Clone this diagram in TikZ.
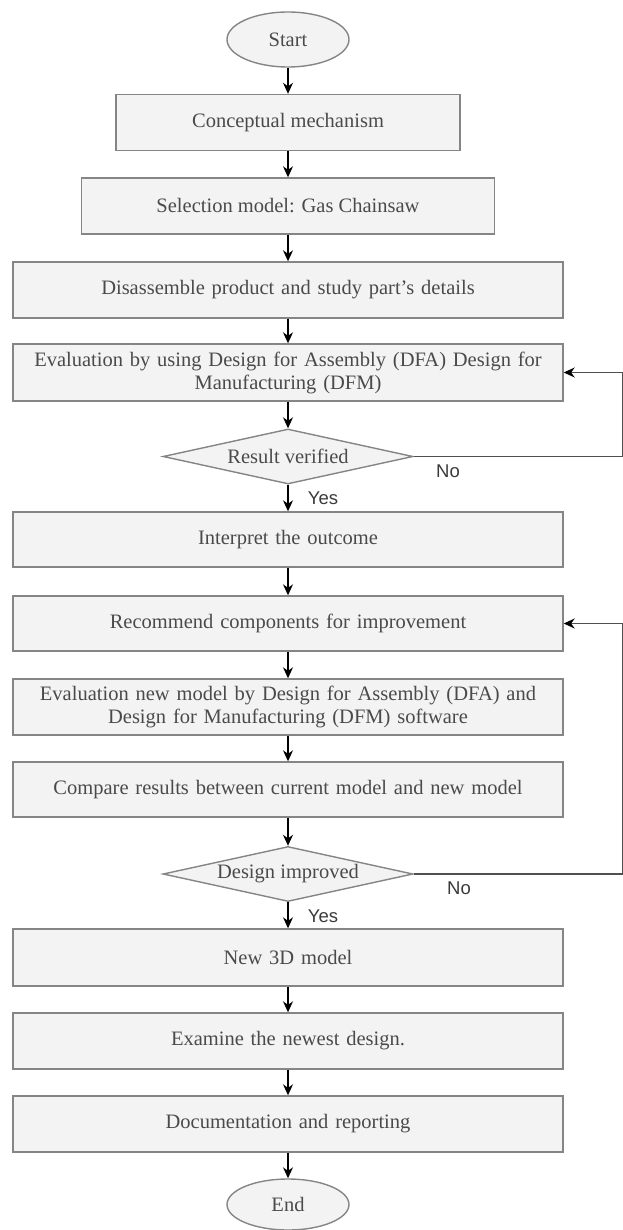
\documentclass[tikz,border=0pt]{standalone}
\usepackage{fontspec}
\setmainfont{Liberation Serif}
\newfontfamily\labfont{Liberation Sans}
\usetikzlibrary{shapes.geometric,arrows.meta}
\definecolor{boxfill}{HTML}{F3F3F3}
\definecolor{boxline}{HTML}{858585}
\definecolor{boxtext}{HTML}{4A4A4A}
\definecolor{labtext}{HTML}{3A3A3A}
\definecolor{fbline}{HTML}{505050}
\tikzset{
  base/.style={draw=boxline, fill=boxfill, line width=1.4pt, text=boxtext,
    font=\fontsize{20.5}{23}\selectfont, inner sep=0pt, align=center},
  procbox/.style={base, rectangle, minimum width=550pt, minimum height=56pt, text width=540pt},
  termnode/.style={base, ellipse, minimum width=122pt, minimum height=55pt},
  decnode/.style={base, diamond, aspect=4.5, minimum width=250pt, minimum height=55pt},
  arr/.style={line width=1.4pt, black, -{Stealth[length=11pt,width=10pt]}},
  fbarr/.style={line width=1.3pt, fbline, -{Stealth[length=11pt,width=10pt,color=black,fill=black]}},
  lab/.style={font=\labfont\fontsize{18.5}{20}\selectfont, text=labtext, inner sep=0pt}
}
\begin{document}
\begin{tikzpicture}[x=1pt,y=-1pt]
\useasboundingbox (0,0) rectangle (622,1230);
\node[termnode] (start) at (288,39.5) {Start};
\node[base, minimum width=344pt, minimum height=56pt] (c1) at (288,122.5) {Conceptual mechanism};
\node[base, minimum width=413pt, minimum height=56pt] (c2) at (288,206) {Selection model: Gas Chainsaw};
\node[procbox] (c3) at (288,290) {Disassemble product and study part's details};
\node[procbox, minimum height=57pt] (c4) at (288,372.5) {Evaluation by using Design for Assembly (DFA) Design for\\Manufacturing (DFM)};
\node[decnode] (d1) at (288,456.5) {Result verified};
\node[procbox, minimum height=55pt] (c5) at (288,539.5) {Interpret the outcome};
\node[procbox, minimum height=55pt] (c6) at (288,623.5) {Recommend components for improvement};
\node[procbox] (c7) at (288,707) {Evaluation new model by Design for Assembly (DFA) and\\Design for Manufacturing (DFM) software};
\node[procbox, minimum height=55pt] (c8) at (288,789.5) {Compare results between current model and new model};
\node[decnode] (d2) at (288,874) {Design improved};
\node[procbox, minimum height=57pt] (c9) at (288,957.5) {New 3D model};
\node[procbox] (c10) at (288,1041) {Examine the newest design.};
\node[procbox] (c11) at (288,1124) {Documentation and reporting};
\node[termnode, minimum height=51pt] (end) at (288,1204.5) {End};

\draw[arr] (start) -- (c1);
\draw[arr] (c1) -- (c2);
\draw[arr] (c2) -- (c3);
\draw[arr] (c3) -- (c4);
\draw[arr] (c4) -- (d1);
\draw[arr] (d1) -- (c5);
\draw[arr] (c5) -- (c6);
\draw[arr] (c6) -- (c7);
\draw[arr] (c7) -- (c8);
\draw[arr] (c8) -- (d2);
\draw[arr] (d2) -- (c9);
\draw[arr] (c9) -- (c10);
\draw[arr] (c10) -- (c11);
\draw[arr] (c11) -- (end);

\coordinate (r1) at (622.4,456.5);
\coordinate (r1t) at (622.4,372.5);
\coordinate (r2) at (622.4,874);
\coordinate (r2t) at (622.4,623.5);
\draw[fbarr] (d1.east) -- (r1) -- (r1t) -- (c4.east);
\draw[fbarr] (d2.east) -- (r2) -- (r2t) -- (c6.east);

\node[lab] (no1) at (448,471) {No};
\node[lab] (yes1) at (323,498) {Yes};
\node[lab] (no2) at (459,888) {No};
\node[lab] (yes2) at (323,916) {Yes};
\end{tikzpicture}
\end{document}
